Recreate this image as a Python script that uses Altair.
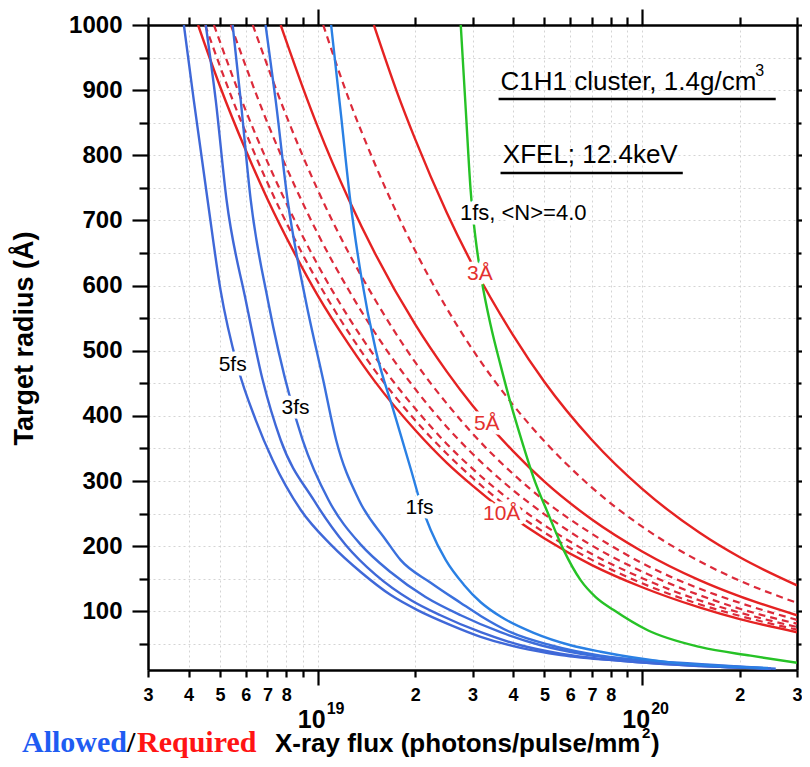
import altair as alt
import pandas as pd

X_MIN, X_MAX = 3e18, 3e20
Y_MIN, Y_MAX = 10, 1000

# ---------------- curves ----------------
# Blue: allowed flux (pulse widths)
b5_x = [3.87e18, 4.15e18, 4.58e18, 5.02e18, 5.67e18, 6.44e18, 7.27e18, 8.86e18, 1.10e19, 1.36e19, 1.68e19, 2.03e19, 2.57e19, 3.18e19, 4.22e19, 5.61e19, 8.59e19, 1.52e20, 2.49e20]
b5_y = [1000, 885, 731, 593, 475, 394, 332, 256, 202, 160, 125, 102, 79, 61, 44, 33, 24, 16, 12]
b4_x = [4.52e18, 4.85e18, 5.24e18, 6.00e18, 6.77e18, 7.69e18, 9.72e18, 1.22e19, 1.51e19, 1.94e19, 2.39e19, 3.18e19, 4.22e19, 5.61e19, 8.59e19, 1.52e20, 2.49e20]
b4_y = [1000, 885, 731, 578, 455, 363, 271, 202, 156, 117, 94, 68, 48, 35, 24, 16, 12]
b3_x = [5.47e18, 5.79e18, 6.22e18, 7.02e18, 8.26e18, 8.99e18, 1.08e19, 1.36e19, 1.68e19, 2.15e19, 2.76e19, 3.66e19, 4.87e19, 6.46e19, 9.89e19, 1.52e20, 2.49e20]
b3_y = [1000, 885, 731, 578, 424, 363, 271, 202, 160, 122, 94, 68, 48, 35, 24, 18, 12]
b2_x = [6.91e18, 7.42e18, 8.08e18, 9.18e18, 1.04e19, 1.14e19, 1.34e19, 1.62e19, 1.80e19, 2.23e19, 2.76e19, 3.18e19, 3.93e19, 5.22e19, 7.45e19, 1.14e20, 1.75e20, 2.58e20]
b2_y = [1000, 885, 731, 578, 455, 363, 271, 210, 179, 144, 113, 93, 68, 48, 32, 23, 17, 12]
b1_x = [1.10e19, 1.18e19, 1.26e19, 1.36e19, 1.51e19, 1.72e19, 1.94e19, 2.08e19, 2.23e19, 2.48e19, 2.82e19, 3.18e19, 3.66e19, 4.63e19, 6.02e19, 7.45e19, 1.20e20, 2.44e20]
b1_y = [1000, 862, 731, 616, 501, 405, 317, 265, 225, 179, 141, 114, 92, 67, 48, 38, 22, 13]

# Red: required flux (resolution)
r3_x = [1.49e19, 1.75e19, 2e19, 2.5e19, 3e19, 4e19, 5e19, 7e19, 1e20, 1.5e20, 2e20, 3e20]
r3_y = [1000, 899, 824, 712, 632, 524, 452, 363, 288, 221, 183, 140]
r4_x = [1.04e19, 1.25e19, 1.5e19, 2e19, 2.5e19, 3e19, 4e19, 5e19, 7e19, 1e20, 1.5e20, 2e20, 3e20]
r4_y = [1000, 885, 787, 653, 565, 502, 417, 361, 290, 230, 177, 147, 113]
r5_x = [7.69e18, 9e18, 1e19, 1.25e19, 1.5e19, 2e19, 2.5e19, 3e19, 4e19, 5e19, 7e19, 1e20, 1.5e20, 2e20, 3e20]
r5_y = [1000, 904, 844, 731, 650, 540, 468, 416, 346, 299, 241, 192, 148, 123, 94]
r6_x = [6.31e18, 8e18, 1e19, 1.25e19, 1.5e19, 2e19, 2.5e19, 3e19, 4e19, 5e19, 7e19, 1e20, 1.5e20, 2e20, 3e20]
r6_y = [1000, 861, 747, 649, 579, 482, 419, 373, 311, 270, 219, 174, 135, 113, 87]
r7_x = [5.40e18, 7e18, 8.5e18, 1e19, 1.25e19, 1.5e19, 2e19, 2.5e19, 3e19, 4e19, 5e19, 7e19, 1e20, 1.5e20, 2e20, 3e20]
r7_y = [1000, 850, 753, 680, 592, 528, 441, 383, 342, 286, 249, 201, 161, 125, 104, 81]
r8_x = [4.79e18, 6e18, 7e18, 8.5e18, 1e19, 1.25e19, 1.5e19, 2e19, 2.5e19, 3e19, 4e19, 5e19, 7e19, 1e20, 1.5e20, 2e20, 3e20]
r8_y = [1000, 869, 790, 700, 632, 550, 491, 411, 357, 319, 267, 232, 188, 151, 117, 98, 76]
r9_x = [4.5e18, 5.5e18, 7e18, 8.5e18, 1e19, 1.25e19, 1.5e19, 2e19, 2.5e19, 3e19, 4e19, 5e19, 7e19, 1e20, 1.5e20, 2e20, 3e20]
r9_y = [1000, 882, 758, 671, 606, 527, 470, 393, 342, 305, 254, 221, 179, 143, 111, 93, 72]
r10_x = [4.28e18, 5e18, 6e18, 7e18, 8.5e18, 1e19, 1.25e19, 1.5e19, 2e19, 2.5e19, 3e19, 4e19, 5e19, 7e19, 1e20, 1.5e20, 2e20, 3e20]
r10_y = [1000, 906, 808, 733, 649, 585, 509, 453, 378, 328, 293, 244, 212, 171, 137, 106, 88, 68]

# Green: 1fs, <N>=4.0
g_x = [2.76e19, 2.86e19, 2.96e19, 3.07e19, 3.20e19, 3.41e19, 3.66e19, 3.93e19, 4.28e19, 4.63e19, 5.15e19, 5.73e19, 6.46e19, 7.19e19, 8.17e19, 1.04e20, 1.515e20, 2.16e20, 3.0e20]
g_y = [1000, 870, 747, 670, 609, 540, 478, 420, 358, 305, 248, 194, 148, 122, 102, 71, 45, 32, 21]

# curve labels
lab_text = ["5fs", "3fs", "1fs", "1fs, <N>=4.0", "3Å", "5Å", "10Å"]
lab_x = [5.47e18, 8.55e18, 2.06e19, 4.30e19, 3.16e19, 3.32e19, 3.69e19]
lab_y = [478, 412, 259, 711, 618, 388, 249]
lab_col = ["black", "black", "black", "black", "#e3312f", "#e3312f", "#e3312f"]
lab_size = [21, 21, 21, 22, 21, 21, 21]

x_ticks = [3e18, 4e18, 5e18, 6e18, 7e18, 8e18, 9e18, 1e19, 2e19, 3e19, 4e19, 5e19,
           6e19, 7e19, 8e19, 9e19, 1e20, 2e20, 3e20]
y_ticks = list(range(50, 1001, 50))
decades = [1e19, 1e20]
decade_exp = ["19", "20"]


def cdf(name, xs, ys):
    return pd.DataFrame({"flux": xs, "radius": ys, "curve": name})


blue_df = pd.concat([cdf("5fs", b5_x, b5_y), cdf("4fs", b4_x, b4_y), cdf("3fs", b3_x, b3_y),
                     cdf("2fs", b2_x, b2_y), cdf("1fs", b1_x, b1_y)])
red_solid_df = pd.concat([cdf("3A", r3_x, r3_y), cdf("5A", r5_x, r5_y), cdf("10A", r10_x, r10_y)])
red_dash_df = pd.concat([cdf("4A", r4_x, r4_y), cdf("6A", r6_x, r6_y), cdf("7A", r7_x, r7_y),
                         cdf("8A", r8_x, r8_y), cdf("9A", r9_x, r9_y)])
green_df = cdf("N4", g_x, g_y)
lab_df = pd.DataFrame({"flux": lab_x, "radius": lab_y, "t": lab_text, "c": lab_col, "s": lab_size})
dec_df = pd.DataFrame({"flux": decades, "e": decade_exp})

FONT = "Liberation Sans"
SERIF = "Liberation Serif"
mant = "round(datum.value / pow(10, floor(log(datum.value) / LN10 + 1e-6)))"
x_label_expr = f"({mant} == 1 || {mant} == 9) ? '' : '' + {mant}"
x_major = "datum.value == 1e19 || datum.value == 1e20"
y_major = "datum.value % 100 == 0"

bottom_axis = alt.Axis(
    values=x_ticks, labelExpr=x_label_expr, title=None,
    grid=True, gridDash=[2, 3], gridColor="#d4d4d4", gridWidth=1,
    domainColor="black", domainWidth=2.5, tickColor="black", tickWidth=2.2,
    tickSize={"condition": {"test": x_major, "value": 15}, "value": 7},
    labelFont=FONT, labelFontSize=18, labelFontWeight="bold", labelColor="black",
    labelPadding=9, labelFlush=False, labelOverlap=False, labelBound=False,
)
left_axis = alt.Axis(
    values=y_ticks, labelExpr=f"{y_major} ? datum.value : ''",
    title="Target radius (Å)", titleFont=FONT, titleFontSize=27, titleFontWeight="bold",
    titleColor="black", titleX=-116, titleY=313, titleBaseline="alphabetic",
    grid=True, gridDash=[2, 3], gridColor="#d4d4d4", gridWidth=1,
    domainColor="black", domainWidth=2.5, tickColor="black", tickWidth=2.2,
    tickSize={"condition": {"test": y_major, "value": 16}, "value": 9},
    labelFont=FONT, labelFontSize=24, labelFontWeight="bold", labelColor="black",
    labelPadding=10, labelFlush=False, labelOverlap=False, labelBound=False,
)
top_axis = alt.Axis(
    orient="top", values=x_ticks, labels=False, title=None, grid=False,
    domainColor="black", domainWidth=2.5, tickColor="black", tickWidth=2.2,
    tickSize={"condition": {"test": x_major, "value": 16}, "value": 8},
)
right_axis = alt.Axis(
    orient="right", values=y_ticks, labels=False, title=None, grid=False,
    domainColor="black", domainWidth=2.5, tickColor="black", tickWidth=2.2,
    tickSize={"condition": {"test": y_major, "value": 5}, "value": 4},
)

xs = alt.Scale(type="log", domain=[X_MIN, X_MAX], nice=False)
ys = alt.Scale(domain=[Y_MIN, Y_MAX], nice=False, zero=False)
X0 = alt.X("flux:Q", axis=None)
Y0 = alt.Y("radius:Q", axis=None)
LW = 2.4

red_dash = alt.Chart(red_dash_df).mark_line(
    color="#dc2a3a", strokeWidth=2.2, strokeDash=[7, 5], interpolate="monotone", clip=True
).encode(x=alt.X("flux:Q", scale=xs, axis=bottom_axis),
         y=alt.Y("radius:Q", scale=ys, axis=left_axis), detail="curve:N", order="flux:Q")

red_solid = alt.Chart(red_solid_df).mark_line(
    color="#e52222", strokeWidth=LW, interpolate="monotone", clip=True
).encode(x=X0, y=Y0, detail="curve:N", order="flux:Q")

blue = alt.Chart(blue_df).mark_line(strokeWidth=LW, interpolate="monotone", clip=True).encode(
    x=X0, y=Y0, detail="curve:N", order="flux:Q",
    color=alt.Color("curve:N", legend=None,
                    scale=alt.Scale(domain=["5fs", "4fs", "3fs", "2fs", "1fs"],
                                    range=["#3f68d8", "#3f68d8", "#3d6cda", "#3a70dd", "#2a80e4"])))

green = alt.Chart(green_df).mark_line(
    color="#26c226", strokeWidth=LW, interpolate="monotone", clip=True
).encode(x=X0, y=Y0, order="flux:Q")

# annotation box texts
ann1 = alt.Chart(pd.DataFrame({"flux": [3.66e19], "radius": [900]})).mark_text(
    text="C1H1 cluster, 1.4g/cm", align="left", baseline="alphabetic", font=FONT,
    fontSize=26, color="black").encode(x=X0, y=Y0)
ann1s = alt.Chart(pd.DataFrame({"flux": [2.23e20], "radius": [922]})).mark_text(
    text="3", align="left", baseline="alphabetic", font=FONT, fontSize=16,
    color="black").encode(x=X0, y=Y0)
ann2 = alt.Chart(pd.DataFrame({"flux": [3.72e19], "radius": [788]})).mark_text(
    text="XFEL; 12.4keV", align="left", baseline="alphabetic", font=FONT,
    fontSize=26, color="black").encode(x=X0, y=Y0)
und = alt.Chart(pd.DataFrame({"flux": [3.61e19, 3.66e19], "flux2": [2.58e20, 1.334e20],
                              "radius": [886.4, 772.8]})).mark_rule(
    color="black", strokeWidth=2.5).encode(x=X0, x2="flux2:Q", y=Y0)

halo = alt.Chart(lab_df).mark_text(font=FONT, color="white", stroke="white",
                                   strokeWidth=9, strokeJoin="round").encode(
    x=X0, y=Y0, text="t:N", size=alt.Size("s:Q", scale=None))
labels = alt.Chart(lab_df).mark_text(font=FONT).encode(
    x=X0, y=Y0, text="t:N", size=alt.Size("s:Q", scale=None),
    color=alt.Color("c:N", scale=None))

dec10 = alt.Chart(dec_df).mark_text(text="10", font=FONT, fontSize=25, fontWeight="bold",
                                    align="center", baseline="alphabetic", dx=-6,
                                    color="black").encode(x=X0, y=alt.value(703))
decexp = alt.Chart(dec_df).mark_text(font=FONT, fontSize=16, fontWeight="bold", align="left",
                                     baseline="alphabetic", dx=9, color="black").encode(
    x=X0, y=alt.value(689), text="e:N")


def ttext(txt, px, py, size, font, color, weight="bold"):
    return alt.Chart(pd.DataFrame({"t": [txt]})).mark_text(
        align="left", baseline="alphabetic", font=font, fontSize=size, fontWeight=weight,
        color=color).encode(x=alt.value(px), y=alt.value(py), text="t:N")


TB = 727
t1 = ttext("Allowed", -126, TB, 30, SERIF, "#1f5cf2")
t2 = ttext("/", -21, TB, 30, SERIF, "black")
t3 = ttext("Required", -11, TB, 30, SERIF, "#ff1414")
t4 = ttext("X-ray flux (photons/pulse/mm", 127, TB, 26, FONT, "black")
t5 = ttext("2", 494, TB - 14, 15, FONT, "black")
t6 = ttext(")", 503, TB, 26, FONT, "black")

frame = alt.Chart(green_df).mark_point(opacity=0).encode(
    x=alt.X("flux:Q", axis=top_axis), y=alt.Y("radius:Q", axis=right_axis))

chart = alt.layer(
    red_dash, red_solid, blue, green, und, ann1, ann1s, ann2, halo, labels,
    dec10, decexp, t1, t2, t3, t4, t5, t6, frame
).resolve_axis(x="independent", y="independent").properties(
    width=649, height=645, autosize="none",
    padding={"left": 140, "top": 17, "right": 5, "bottom": 88},
).configure_view(strokeWidth=0).configure(font=FONT, background="white")

chart.save("out.html", embed_options={"renderer": "svg", "actions": False})
